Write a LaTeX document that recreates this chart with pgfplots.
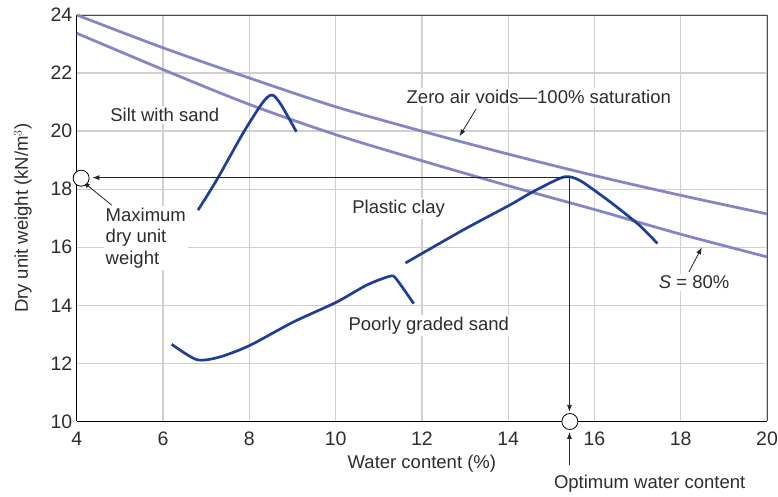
\documentclass[border=0pt]{standalone}
\usepackage{pgfplots}
\pgfplotsset{compat=1.18}
\usepackage{fontspec}
\setmainfont{Liberation Sans}
\usetikzlibrary{arrows.meta}
\definecolor{txt}{RGB}{45,45,45}
\definecolor{lav}{RGB}{134,134,198}
\definecolor{dblue}{RGB}{30,62,152}
\definecolor{gridc}{RGB}{208,208,208}

\begin{document}
\begin{tikzpicture}
\useasboundingbox (0,0) rectangle (778pt,497pt);
\begin{axis}[
    at={(76.8pt,75.5pt)}, anchor=south west,
    scale only axis, width=690.2pt, height=406.5pt,
    xmin=4, xmax=20, ymin=10, ymax=24,
    xtick={4,6,...,20}, ytick={10,12,...,24},
    grid=major,
    major grid style={gridc, line width=1.3pt},
    major tick length=0pt,
    axis line style={line width=1.2pt, black},
    axis x line*=bottom, axis y line*=left,
    clip=false,
    font=\fontsize{18.5}{21}\selectfont,
    /pgf/number format/assume math mode=true,
    tick label style={text=txt, font=\fontsize{19.5}{22}\selectfont},
    xticklabel style={yshift=-7pt},
    yticklabel style={xshift=-1pt},
    xlabel={Water content (\%)},
    ylabel={Dry unit weight (kN/m$^3$)},
    label style={text=txt},
    xlabel style={yshift=-2pt},
    ylabel style={yshift=12pt},
]
% frame top/right
\draw[black!70, line width=0.8pt] (rel axis cs:0,1) -- (rel axis cs:1,1) -- (rel axis cs:1,0);

% text labels with white boxes
\tikzset{lbl/.style={fill=white, text=txt, inner sep=2pt, font=\fontsize{18.5}{21.5}\selectfont}}
\node[lbl] at (axis cs:6.04,20.55) {Silt with sand};
\node[lbl] at (axis cs:14.71,21.17) {Zero air voids---100\% saturation};
\node[lbl] at (axis cs:11.46,17.34) {Plastic clay};
\node[lbl] at (axis cs:12.16,13.31) {Poorly graded sand};
\node[lbl] at (axis cs:18.31,14.79) {\textit{S} = 80\%};
\node[lbl, align=left, anchor=west] at (axis cs:4.62,16.32) {Maximum\\dry unit\\weight};
\node[text=txt, font=\fontsize{18.5}{21.5}\selectfont] at (axis cs:17.28,7.86) {Optimum water content};

% zero air voids and S = 80 %
\addplot[lav, line width=2.8pt, smooth] coordinates {
  (4,24.0) (6,22.87) (8,21.83) (10,20.84) (12,20.0) (14,19.21) (16,18.47) (18,17.79) (20,17.15)};
\addplot[lav, line width=2.8pt, smooth] coordinates {
  (4,23.37) (6,22.12) (8,20.92) (10,19.88) (12,18.98) (14,18.12) (16,17.3) (18,16.45) (20,15.67)};

% compaction curves
\addplot[dblue, line width=2.7pt, smooth, tension=0.45] coordinates {
  (6.81,17.28) (7.24,18.31) (7.85,19.92) (8.24,20.84) (8.42,21.17) (8.55,21.24) (8.74,20.9) (9.09,19.98)};
\addplot[dblue, line width=2.7pt, smooth, tension=0.45] coordinates {
  (6.20,12.66) (6.78,12.13) (7.31,12.22) (8.01,12.62) (9.01,13.42) (10.02,14.11) (10.71,14.69) (11.25,15.0) (11.40,14.92) (11.81,14.06)};
\addplot[dblue, line width=2.7pt, smooth, tension=0.45] coordinates {
  (11.62,15.46) (12.95,16.59) (14.03,17.45) (14.57,17.91) (15.19,18.37) (15.42,18.43) (15.72,18.25) (16.42,17.5) (17.04,16.76) (17.46,16.13)};

% arrows
\tikzset{arr/.style={black!85, line width=0.8pt, -{Latex[length=7pt,width=5pt]}}}
\draw[arr] (axis cs:15.42,18.4) -- (axis cs:4.36,18.4);
\draw[arr] (axis cs:15.42,18.4) -- (axis cs:15.42,10.33);
\draw[arr] (axis cs:15.42,8.5) -- (axis cs:15.42,9.64);
\draw[arr] (axis cs:4.81,17.45) -- (axis cs:4.14,18.26);
\draw[arr] (axis cs:13.26,20.77) -- (axis cs:12.87,19.82);
\draw[arr] (axis cs:18.19,15.15) -- (axis cs:18.49,16.0);

% circles
\addplot[only marks, mark=*, mark size=8pt, mark options={fill=white, draw=black, line width=0.8pt}] coordinates {(4.1,18.38) (15.43,10)};
\end{axis}
\end{tikzpicture}
\end{document}
